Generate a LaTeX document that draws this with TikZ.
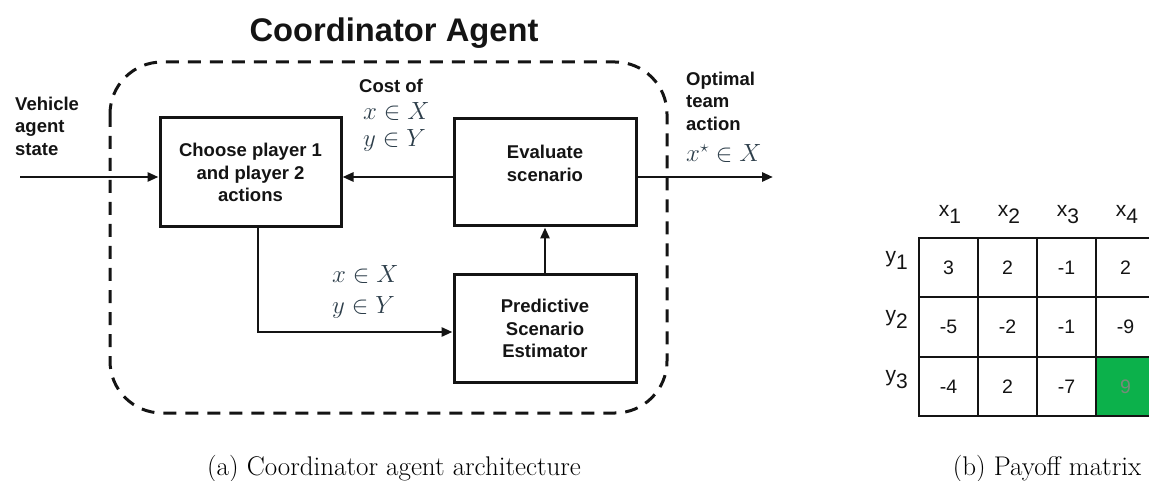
\documentclass[tikz,border=0pt]{standalone}
\usepackage{fontspec}
\setsansfont{Liberation Sans}
\usetikzlibrary{arrows.meta}
\definecolor{mathink}{RGB}{45,62,74}
\definecolor{bestcell}{RGB}{12,177,75}
\definecolor{ink}{RGB}{20,20,20}
\begin{document}
\begin{tikzpicture}[x=1pt,y=-1pt,
  bold/.style={font=\sffamily\bfseries\fontsize{18.5}{22.5}\selectfont, text=ink, inner sep=0pt},
  block/.style={draw=ink, line width=3pt, inner sep=0pt, align=center,
    minimum width=182pt, minimum height=107pt},
  mathlbl/.style={anchor=base west, inner sep=0pt, text=mathink,
    font=\fontsize{23}{27}\selectfont},
  arr/.style={draw=ink, line width=2.7pt,
    -{Triangle[length=11pt,width=9pt]}},
  frame/.style={draw=ink, line width=3pt, dash pattern=on 13pt off 9pt,
    rounded corners=52pt},
  cell/.style={draw=ink, line width=2.2pt, minimum width=59pt,
    minimum height=59.3pt, inner sep=0pt},
  cellnum/.style={anchor=base, inner sep=0pt, text=ink,
    font=\sffamily\fontsize{19.5}{22}\selectfont},
  hdr/.style={inner sep=0pt, text=ink, font=\sffamily\fontsize{21}{24}\selectfont},
  caption/.style={anchor=base, inner sep=0pt, font=\fontsize{27}{31}\selectfont}]
\useasboundingbox (0,0) rectangle (1149,481);

% ---- architecture of the coordinator agent ----
\node[bold, anchor=base, font=\sffamily\bfseries\fontsize{32.7}{38}\selectfont]
  (title) at (394,42) {Coordinator Agent};
\draw[frame] (110,62) rectangle (667,413);

\node[block, bold, minimum width=181pt, minimum height=109pt]
  (choose) at (250.5,172.5) {Choose player 1\\and player 2\\actions};
\node[block, label={[bold, align=center, yshift=9pt]center:Evaluate\\scenario}]
  (eval) at (545,172.5) {};
\node[block, bold] (pred) at (545,328.5) {Predictive\\Scenario\\Estimator};

\coordinate (in) at (20,177);
\coordinate (out) at (773,177);
\draw[arr] (in) -- (in -| choose.west);
\draw[arr] (in -| eval.west) -- (in -| choose.east);
\draw[arr] (in -| eval.east) -- (out);
\draw[arr] ([xshift=7.5pt]choose.south) |- ([yshift=-3.5pt]pred.west);
\draw[arr] (pred.north) -- (eval.south);

\node[bold, align=left, anchor=west] (vstate) at (15,126) {Vehicle\\agent\\state};
\node[bold] (cost) at (391,86) {Cost of};
\node[mathlbl] (costx) at (363,120) {$x\in X$};
\node[mathlbl] (costy) at (363,147) {$y\in Y$};
\node[bold, align=left, anchor=west] (opt) at (686,101) {Optimal\\team\\action};
\node[mathlbl] (optx) at (686,162) {$x^{\star}\in X$};
\node[mathlbl] (midx) at (332,283) {$x\in X$};
\node[mathlbl] (midy) at (332,313) {$y\in Y$};

\node[caption] (capa) at (394,475) {(a) Coordinator agent architecture};

% ---- payoff matrix ----
\foreach \c/\val [count=\i] in {1/3,2/2,3/-1,4/2} {
  \node[cell] (m-1-\i) at ({919+59*(\i-0.5)},267.7) {};
  \node[cellnum] at ({919+59*(\i-0.5)},274.5) {\val};
}
\foreach \c/\val [count=\i] in {1/-5,2/-2,3/-1,4/-9} {
  \node[cell] (m-2-\i) at ({919+59*(\i-0.5)},327) {};
  \node[cellnum] at ({919+59*(\i-0.5)},333.8) {\val};
}
\foreach \c/\val [count=\i] in {1/-4,2/2,3/-7} {
  \node[cell] (m-3-\i) at ({919+59*(\i-0.5)},386.3) {};
  \node[cellnum] at ({919+59*(\i-0.5)},393.1) {\val};
}
\node[cell, fill=bestcell] (m-3-4) at (1125.5,386.3) {};
\node[cellnum, text={rgb,255:red,120;green,138;blue,122}] at (1125.5,393.1) {9};

\foreach \i in {1,2,3,4}
  \node[hdr, anchor=base] (x\i) at ({920.5+59*(\i-0.5)},217) {x\raisebox{-7pt}{\i}};
\foreach \r/\yy in {1/262,2/321.5,3/381}
  \node[hdr, anchor=base east] (y\r) at (908,\yy) {y\raisebox{-7pt}{\r}};

\node[caption] (capb) at (1047,475) {(b) Payoff matrix};
\end{tikzpicture}
\end{document}
